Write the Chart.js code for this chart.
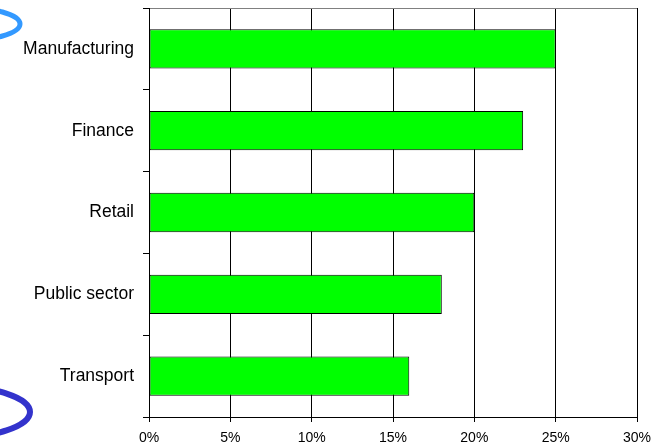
<!DOCTYPE html>
<html>
<head>
<meta charset="utf-8">
<title>Share by sector</title>
<script src="https://cdn.jsdelivr.net/npm/chart.js@4"></script>
<style>
  html, body { margin: 0; padding: 0; background: #fff; }
  canvas { display: block; }
</style>
</head>
<body>
<canvas id="sectorChart" width="654" height="445"></canvas>
<script>
const sectors = ['Manufacturing', 'Finance', 'Retail', 'Public sector', 'Transport'];
const shares = [25, 23, 20, 18, 16];
const xTicks = [0, 5, 10, 15, 20, 25, 30];

const FONT = "'Liberation Sans', Arial, sans-serif";

// the two blue loops sitting in the left margin
const loops = {
    id: 'loops',
    afterDraw(chart) {
        const ctx = chart.ctx;
        ctx.save();
        ctx.lineWidth = 5;
        ctx.strokeStyle = '#3399ff';
        ctx.beginPath();
        ctx.ellipse(-40, 24, 60, 17, 0, 0, Math.PI * 2);
        ctx.stroke();
        ctx.lineWidth = 6;
        ctx.strokeStyle = '#3333cc';
        ctx.beginPath();
        ctx.ellipse(-50, 412, 80, 26, 0, 0, Math.PI * 2);
        ctx.stroke();
        ctx.restore();
    }
};

const ctx = document.getElementById('sectorChart').getContext('2d');
new Chart(ctx, {
    type: 'bar',
    data: {
        labels: sectors,
        datasets: [{
            data: shares,
            backgroundColor: '#00ff00',
            borderColor: '#000000',
            borderWidth: 1,
            borderSkipped: false,
            barPercentage: 0.48,
            categoryPercentage: 1
        }]
    },
    options: {
        indexAxis: 'y',
        responsive: false,
        animation: false,
        devicePixelRatio: 1,
        layout: { padding: { top: 8, right: 17, left: 0, bottom: 0 } },
        plugins: {
            legend: { display: false },
            tooltip: { enabled: false }
        },
        scales: {
            x: {
                min: xTicks[0],
                max: xTicks[xTicks.length - 1],
                afterBuildTicks: scale => {
                    scale.ticks = xTicks.map(v => ({ value: v }));
                },
                afterFit: scale => {
                    scale.height = 28;
                    scale.paddingLeft = 0;
                    scale.paddingRight = 0;
                },
                grid: { color: '#000000', tickLength: 5, lineWidth: 1 },
                border: { color: '#000000' },
                ticks: {
                    color: '#000000',
                    padding: 8,
                    maxRotation: 0,
                    font: { family: FONT, size: 14 },
                    callback: v => v + '%'
                }
            },
            y: {
                afterFit: scale => {
                    scale.width = 149;
                    scale.paddingTop = 0;
                    scale.paddingBottom = 0;
                },
                grid: {
                    offset: true,
                    color: c => c.index === 0 ? '#808080' : 'rgba(0,0,0,0)',
                    tickColor: '#000000',
                    tickLength: 6
                },
                border: { color: '#000000' },
                ticks: {
                    color: '#000000',
                    padding: 9,
                    font: { family: FONT, size: 17.5 }
                }
            }
        }
    },
    plugins: [loops]
});
</script>
</body>
</html>
